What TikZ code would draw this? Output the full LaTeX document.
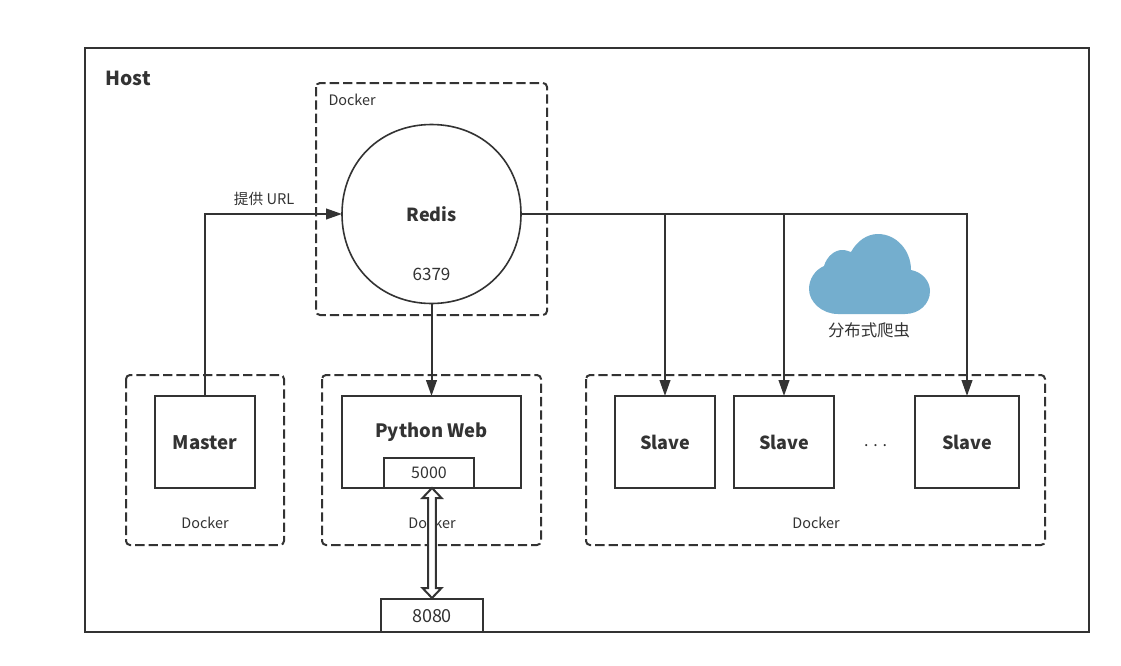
\documentclass[tikz,border=0pt]{standalone}
\usepackage{fontspec}
\setmainfont{Noto Sans CJK SC}
\usetikzlibrary{arrows.meta,calc}
\definecolor{ink}{HTML}{333333}
\definecolor{cloudblue}{HTML}{74AECE}
\tikzset{
  pic/.style={x=0.75pt,y=-0.75pt,every node/.style={outer sep=0pt,inner sep=0pt,text=ink}},
  solidbox/.style={draw=ink,line width=1.5pt,fill=white,rectangle,minimum width=#1*0.75pt},
  dockerbox/.style={draw=ink,line width=1.5pt,rounded corners=3pt,dash pattern=on 7pt off 3pt},
  link/.style={draw=ink,line width=1.5pt,-{Triangle[length=12pt,width=8pt]}},
  title/.style={font=\fontsize{13.5pt}{16pt}\selectfont\bfseries},
  small/.style={font=\fontsize{10.8pt}{13pt}\selectfont},
  mid/.style={font=\fontsize{13.5pt}{16pt}\selectfont},
}
\begin{document}
\begin{tikzpicture}[pic]
\useasboundingbox (0,0) rectangle (1121,665);
\fill[white] (0,0) rectangle (1121,665);
% host
\draw[draw=ink,line width=1.5pt] (85,48) rectangle (1089,632);
\node[title,font=\fontsize{14.5pt}{16pt}\selectfont\bfseries,anchor=west] (hostlabel) at (105.5,78) {Host};
% docker frames
\draw[dockerbox] (316,83) rectangle (547,315);
\draw[dockerbox] (126,375) rectangle (284,545);
\draw[dockerbox] (322,375) rectangle (541,545);
\draw[dockerbox] (586,375) rectangle (1045,545);
\node[small,anchor=west] (dk1) at (328.5,100) {Docker};
\node[small] (dk2) at (205,523) {Docker};
\node[small] (dk3) at (432,523) {Docker};
\node[small] (dk4) at (816,523) {Docker};
% redis
\node[circle,minimum size=179*0.75pt] (redis) at (431.5,214) {};
\draw[draw=ink,line width=1.2pt,fill=white] (redis.north)
  .. controls +(51.5,0) and +(0,-51.5) .. (redis.east)
  .. controls +(0,51.5) and +(51.5,0) .. (redis.south)
  .. controls +(-51.5,0) and +(0,51.5) .. (redis.west)
  .. controls +(0,-51.5) and +(-51.5,0) .. (redis.north) -- cycle;
\node[title] (redislabel) at (431.5,214) {Redis};
\node[mid,font=\fontsize{12.8pt}{16pt}\selectfont] (redisport) at (431.5,274) {6379};
% boxes
\node[solidbox=100,minimum height=92*0.75pt] (master) at (205,442) {};
\node[title,font=\fontsize{14pt}{16pt}\selectfont\bfseries] (masterlabel) at (205,443) {Master};
\node[solidbox=179,minimum height=92*0.75pt] (web) at (431.5,442) {};
\node[title,font=\fontsize{13.8pt}{16pt}\selectfont\bfseries] (weblabel) at (431.5,432) {Python Web};
\node[solidbox=90,minimum height=30*0.75pt,font=\fontsize{12pt}{14pt}\selectfont] (p5000) at (429,473) {5000};
\node[solidbox=100,minimum height=92*0.75pt,title] (s1) at (665,442) {Slave};
\node[solidbox=100,minimum height=92*0.75pt,title] (s2) at (784,442) {Slave};
\node[solidbox=104,minimum height=92*0.75pt,title] (s3) at (967,442) {Slave};
\node[solidbox=102,minimum height=33*0.75pt] (p8080) at (432,615.5) {};
\node[font=\fontsize{13.5pt}{16pt}\selectfont] (l8080) at (432,616) {8080};
\node[font=\fontsize{12pt}{14pt}\selectfont] (dots) at (875.5,446) {. . .};
% connectors
\coordinate (bus) at (redis.east);
\draw[link] (master.north) |- node[small,font=\fontsize{11pt}{13pt}\selectfont,pos=0.716,above=6.2pt] (urllabel) {提供 URL} (redis.west);
\draw[link] (redis.south) -- (web.north);
\draw[link] (bus) -| (s3.north);
\draw[link] (s1.north |- bus) -- (s1.north);
\draw[link] (s2.north |- bus) -- (s2.north);
% hollow double arrow
\coordinate (ta) at (432,488);
\coordinate (tb) at (432,598);
\draw[draw=ink,line width=1.5pt,fill=white,line join=miter]
  (ta) -- ($(ta)+(9.5,10)$) -- ($(ta)+(3.8,10)$) -- ($(tb)+(3.8,-10)$) -- ($(tb)+(9.5,-10)$)
  -- (tb) -- ($(tb)+(-9.5,-10)$) -- ($(tb)+(-3.8,-10)$) -- ($(ta)+(-3.8,10)$) -- ($(ta)+(-9.5,10)$) -- cycle;
% cloud
\fill[cloudblue] (838,314) .. controls (822,314) and (809,302) .. (809,289)
  .. controls (809,279) and (815,270) .. (824,266)
  .. controls (827,256) and (835,250) .. (842,250)
  .. controls (846,250) and (848,251) .. (851,252)
  .. controls (857,241) and (867,234) .. (878,234)
  .. controls (896,234) and (911,250) .. (911,270)
  .. controls (922,272) and (930,281) .. (930,291)
  .. controls (930,304) and (919,314) .. (905,314) -- cycle;
\node[font=\fontsize{12.3pt}{14pt}\selectfont] (cloudlabel) at (869,330.5) {分布式爬虫};
\end{tikzpicture}
\end{document}
